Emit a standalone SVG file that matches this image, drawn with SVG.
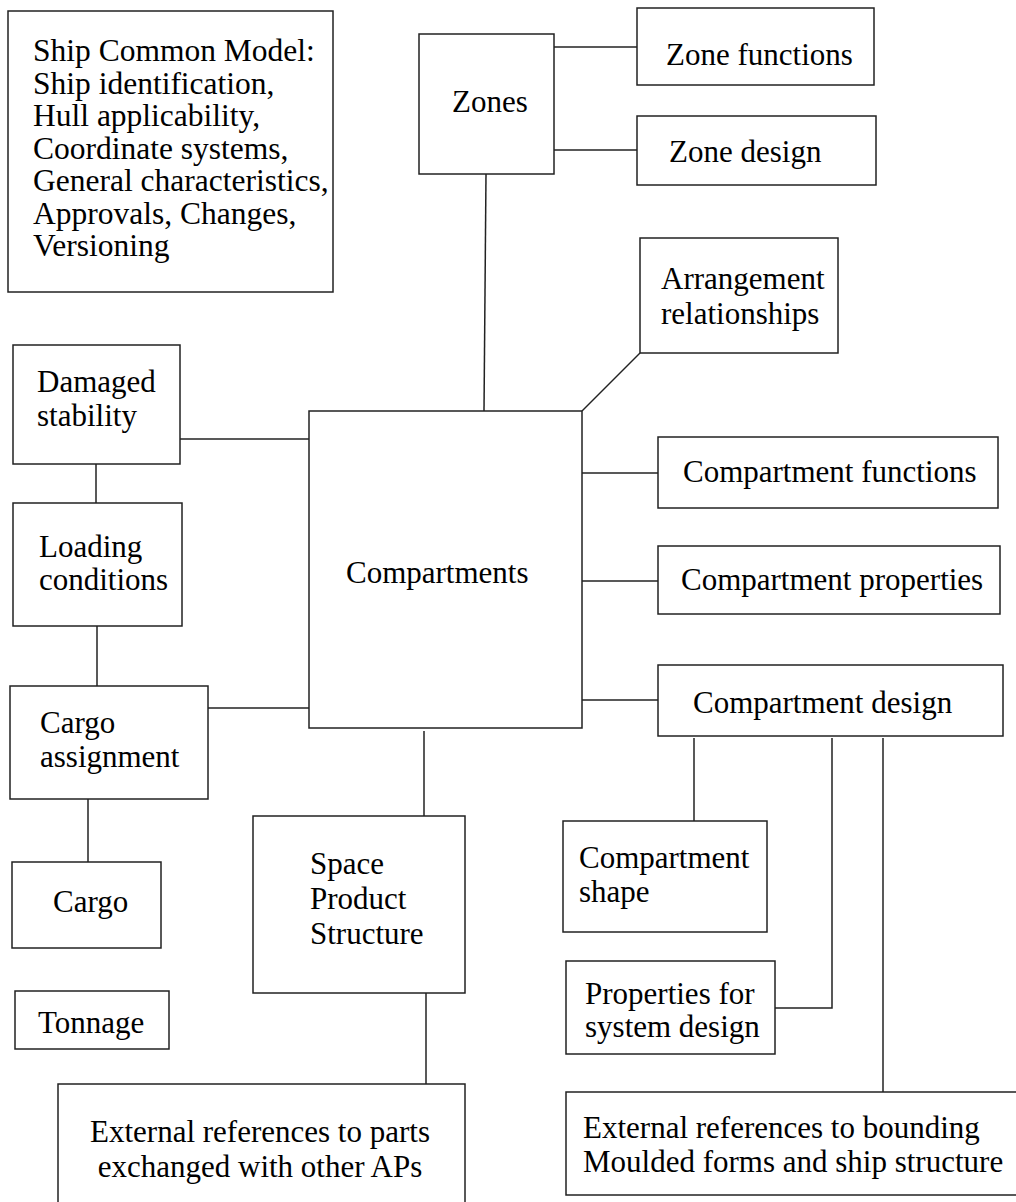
<svg xmlns="http://www.w3.org/2000/svg" width="1016" height="1202" viewBox="0 0 1016 1202">
  <style>
    .box { fill: #ffffff; stroke: #222222; stroke-width: 1.5; }
    .link { fill: none; stroke: #222222; stroke-width: 1.5; }
    .lbl { font-family: "Liberation Serif", "Times New Roman", serif; font-size: 31px; fill: #000000; }
    .big { font-size: 31.5px; }
    .mid { text-anchor: middle; }
  </style>
  <rect x="0" y="0" width="1016" height="1202" fill="#ffffff"/>

  <!-- connectors -->
  <g id="connectors">
    <line class="link" x1="554" y1="47" x2="637" y2="47"/>
    <line class="link" x1="554" y1="150" x2="637" y2="150"/>
    <line class="link" x1="486" y1="174" x2="484" y2="411"/>
    <line class="link" x1="582" y1="411" x2="640" y2="353"/>
    <line class="link" x1="582" y1="473" x2="658" y2="473"/>
    <line class="link" x1="582" y1="581" x2="658" y2="581"/>
    <line class="link" x1="582" y1="700" x2="658" y2="700"/>
    <line class="link" x1="180" y1="439" x2="309" y2="439"/>
    <line class="link" x1="96" y1="464" x2="96" y2="503"/>
    <line class="link" x1="97" y1="626" x2="97" y2="686"/>
    <line class="link" x1="208" y1="708" x2="309" y2="708"/>
    <line class="link" x1="88" y1="799" x2="88" y2="862"/>
    <line class="link" x1="424" y1="731" x2="424" y2="816"/>
    <line class="link" x1="426" y1="993" x2="426" y2="1084"/>
    <line class="link" x1="694" y1="738" x2="694" y2="821"/>
    <path class="link" d="M832 738 V1008 H775"/>
    <line class="link" x1="883" y1="738" x2="883" y2="1092"/>
  </g>

  <!-- nodes -->
  <g id="ship-common-model">
    <rect class="box" x="8" y="11" width="325" height="281"/>
    <text class="lbl big" x="33" y="61">Ship Common Model:</text>
    <text class="lbl big" x="33" y="93.5">Ship identification,</text>
    <text class="lbl big" x="33" y="126">Hull applicability,</text>
    <text class="lbl big" x="33" y="158.5">Coordinate systems,</text>
    <text class="lbl big" x="33" y="191">General characteristics,</text>
    <text class="lbl big" x="33" y="223.5">Approvals, Changes,</text>
    <text class="lbl big" x="33" y="256">Versioning</text>
  </g>

  <g id="zones">
    <rect class="box" x="419" y="34" width="135" height="140"/>
    <text class="lbl" x="452" y="112">Zones</text>
  </g>

  <g id="zone-functions">
    <rect class="box" x="637" y="8" width="237" height="77"/>
    <text class="lbl" x="666" y="65">Zone functions</text>
  </g>

  <g id="zone-design">
    <rect class="box" x="637" y="116" width="239" height="69"/>
    <text class="lbl" x="669" y="162">Zone design</text>
  </g>

  <g id="arrangement-relationships">
    <rect class="box" x="640" y="238" width="198" height="115"/>
    <text class="lbl" x="661" y="289">Arrangement</text>
    <text class="lbl" x="661" y="324">relationships</text>
  </g>

  <g id="damaged-stability">
    <rect class="box" x="13" y="345" width="167" height="119"/>
    <text class="lbl" x="37" y="392">Damaged</text>
    <text class="lbl" x="37" y="426">stability</text>
  </g>

  <g id="loading-conditions">
    <rect class="box" x="13" y="503" width="169" height="123"/>
    <text class="lbl" x="39" y="557">Loading</text>
    <text class="lbl" x="39" y="590">conditions</text>
  </g>

  <g id="cargo-assignment">
    <rect class="box" x="10" y="686" width="198" height="113"/>
    <text class="lbl" x="40" y="733">Cargo</text>
    <text class="lbl" x="40" y="767">assignment</text>
  </g>

  <g id="cargo">
    <rect class="box" x="12" y="862" width="149" height="86"/>
    <text class="lbl" x="53" y="912">Cargo</text>
  </g>

  <g id="tonnage">
    <rect class="box" x="15" y="991" width="154" height="58"/>
    <text class="lbl" x="38" y="1033">Tonnage</text>
  </g>

  <g id="compartments">
    <rect class="box" x="309" y="411" width="273" height="317"/>
    <text class="lbl" x="346" y="583">Compartments</text>
  </g>

  <g id="space-product-structure">
    <rect class="box" x="253" y="816" width="212" height="177"/>
    <text class="lbl" x="310" y="874">Space</text>
    <text class="lbl" x="310" y="909">Product</text>
    <text class="lbl" x="310" y="944">Structure</text>
  </g>

  <g id="external-parts">
    <rect class="box" x="58" y="1084" width="407" height="140"/>
    <text class="lbl mid" x="260" y="1142">External references to parts</text>
    <text class="lbl mid" x="260" y="1177">exchanged with other APs</text>
  </g>

  <g id="compartment-functions">
    <rect class="box" x="658" y="437" width="340" height="71"/>
    <text class="lbl" x="683" y="482">Compartment functions</text>
  </g>

  <g id="compartment-properties">
    <rect class="box" x="658" y="546" width="342" height="68"/>
    <text class="lbl" x="681" y="590">Compartment properties</text>
  </g>

  <g id="compartment-design">
    <rect class="box" x="658" y="665" width="345" height="71"/>
    <text class="lbl" x="693" y="713">Compartment design</text>
  </g>

  <g id="compartment-shape">
    <rect class="box" x="563" y="821" width="204" height="111"/>
    <text class="lbl" x="579" y="868">Compartment</text>
    <text class="lbl" x="579" y="902">shape</text>
  </g>

  <g id="properties-system-design">
    <rect class="box" x="566" y="961" width="209" height="93"/>
    <text class="lbl" x="585" y="1004">Properties for</text>
    <text class="lbl" x="585" y="1037">system design</text>
  </g>

  <g id="external-bounding">
    <rect class="box" x="566" y="1092" width="460" height="103"/>
    <text class="lbl" x="583" y="1138">External references to bounding</text>
    <text class="lbl" x="583" y="1172">Moulded forms and ship structure</text>
  </g>
</svg>
